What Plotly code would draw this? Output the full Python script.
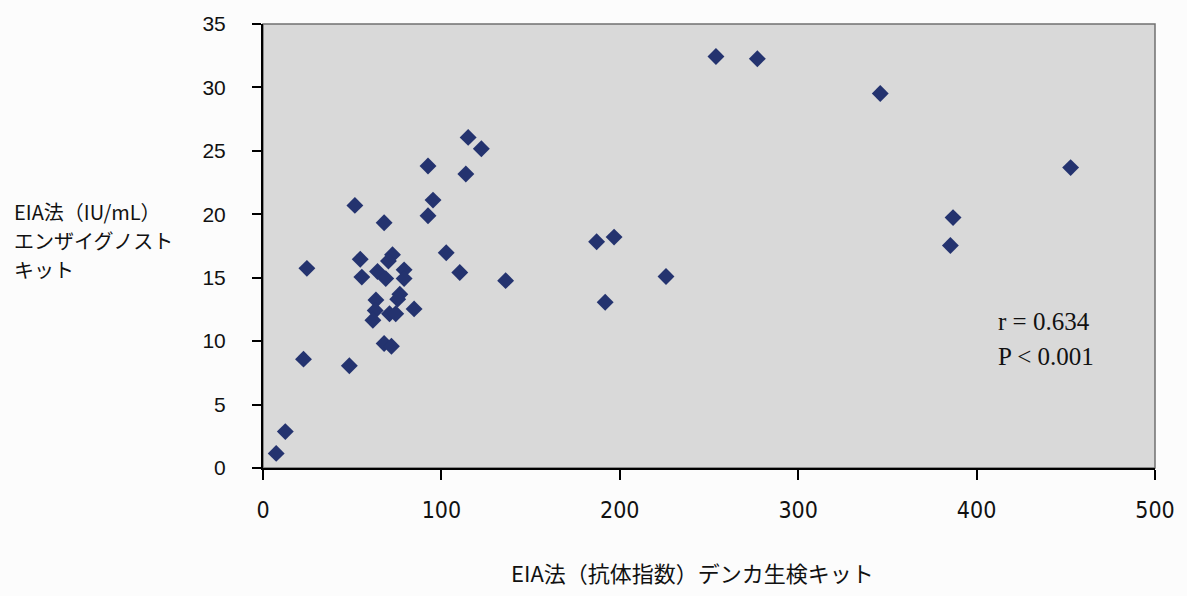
import plotly.graph_objects as go

# Data
x_denka = [7.4, 12.5, 22.7, 24.6, 48.4, 51.5, 54.5, 55.4, 67.9, 64.2, 68.8, 72.6, 70.3,
           79.1, 79.1, 63.3, 62.9, 61.6, 76.7, 75.5, 70.9, 74.4, 84.7, 67.9, 72.0,
           92.5, 95.3, 92.5, 102.7, 110.3, 115.0, 122.4, 113.7, 136.0, 187.0, 196.8,
           191.8, 253.9, 277.1, 346.0, 452.7, 386.8, 385.3, 225.9]
y_enzy = [1.15, 2.87, 8.58, 15.74, 8.06, 20.7, 16.46, 15.05, 19.33, 15.49, 14.93, 16.82, 16.31,
          15.62, 14.93, 13.24, 12.42, 11.65, 13.7, 13.31, 12.16, 12.16, 12.54, 9.81, 9.6,
          23.81, 21.12, 19.89, 16.97, 15.41, 26.06, 25.17, 23.17, 14.77, 17.84, 18.2,
          13.06, 32.44, 32.26, 29.52, 23.68, 19.74, 17.54, 15.1]

x_ticks = [0, 100, 200, 300, 400, 500]
y_ticks = [0, 5, 10, 15, 20, 25, 30, 35]
y_title_lines = ["EIA法（IU/mL）", "エンザイグノスト", "キット"]
x_title = "EIA法（抗体指数）デンカ生検キット"
stats_lines = ["r = 0.634", "P < 0.001"]

fig = go.Figure()
fig.add_trace(go.Scatter(
    x=x_denka, y=y_enzy, mode="markers",
    marker=dict(symbol="diamond", size=13, color="#24336f", line=dict(width=0)),
    showlegend=False,
))

# plot-area frame (gray top/right)
fig.add_shape(type="rect", xref="paper", yref="paper", x0=0, y0=0, x1=1, y1=1,
              line=dict(color="#707070", width=1.5), fillcolor="rgba(0,0,0,0)", layer="below")

sans = "Liberation Sans, Arial, sans-serif"
cjk = "Noto Sans CJK JP, sans-serif"

fig.update_layout(
    width=1187, height=596,
    margin=dict(l=263, r=29, t=13, b=128),
    paper_bgcolor="#fcfcfc",
    plot_bgcolor="#d9d9d9",
    xaxis=dict(range=[0, 500], tickvals=x_ticks, ticktext=[str(v) for v in x_ticks],
               showgrid=False, zeroline=False, showline=True, linecolor="black", linewidth=2,
               ticks="outside", ticklen=10, tickwidth=1.5, tickcolor="black",
               ticklabelstandoff=10,
               tickfont=dict(family="Liberation Sans Narrow, DejaVu Sans Condensed, Arial Narrow, " + sans,
                             size=23, color="#111")),
    yaxis=dict(range=[0, 35], tickvals=y_ticks, ticktext=[str(v) for v in y_ticks],
               showgrid=False, zeroline=False, showline=True, linecolor="black", linewidth=2,
               ticks="outside", ticklen=9, tickwidth=1.5, tickcolor="black",
               ticklabelstandoff=22,
               tickfont=dict(family=sans, size=21, color="#111")),
)

# y-axis title (three left-aligned lines)
for i, line in enumerate(y_title_lines):
    fig.add_annotation(text=line, xref="paper", yref="paper",
                       x=(11 - 263) / 895, y=(468 - (205 + 30 * i)) / 455,
                       xanchor="left", yanchor="middle", showarrow=False,
                       font=dict(family=cjk, size=20, color="#111"))

# x-axis title
fig.add_annotation(text=x_title, xref="paper", yref="paper",
                   x=(694 - 263) / 895, y=(468 - 575) / 455,
                   xanchor="center", yanchor="middle", showarrow=False,
                   font=dict(family=cjk, size=22, color="#111"))

# stats text
for i, line in enumerate(stats_lines):
    fig.add_annotation(text=line, xref="x", yref="y", x=411, y=11.55 - 2.75 * i,
                       xanchor="left", yanchor="middle", showarrow=False,
                       font=dict(family="Liberation Serif, Times New Roman, serif", size=25, color="#111"))

fig.write_html("out.html")
